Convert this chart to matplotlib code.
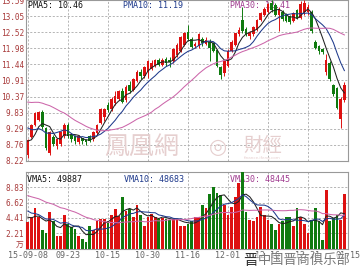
import matplotlib.pyplot as plt
import numpy as np
import pandas as pd

# daily bars 2015-09-08 .. 2016-01-15 (price in yuan, volume in 万手)
opens = [8.42, 9.02, 9.42, 9.59, 9.85, 9.32, 8.50, 9.02, 8.72, 8.80,
         9.05, 9.42, 9.10, 9.05, 8.85, 8.98, 8.92, 9.05, 8.95, 9.15,
         9.50, 9.70, 10.10, 9.95, 10.15, 10.30, 10.55, 10.25, 10.75, 10.60,
         10.90, 11.20, 11.05, 11.20, 11.30, 11.40, 11.58, 11.42, 11.62, 11.60,
         11.55, 11.75, 11.90, 12.10, 12.52, 12.30, 12.05, 12.05, 12.30, 12.12,
         12.20, 12.15, 11.92, 11.35, 11.15, 11.40, 11.90, 12.08, 12.45, 12.92,
         12.62, 12.38, 12.45, 12.60, 12.92, 13.10, 13.20, 13.50, 13.42, 13.10,
         13.20, 13.10, 13.05, 12.90, 13.25, 13.00, 13.20, 13.20, 13.20, 12.20,
         12.05, 11.95, 11.20, 11.50, 10.75, 10.65, 9.62, 10.25]
highs = [8.95, 9.45, 9.85, 9.90, 9.92, 9.35, 9.22, 9.10, 9.00, 9.22,
         9.50, 9.48, 9.15, 9.10, 9.10, 9.00, 8.95, 9.08, 9.22, 9.45,
         10.00, 10.00, 10.20, 10.35, 10.55, 10.60, 10.65, 10.75, 10.90, 11.00,
         11.25, 11.30, 11.40, 11.60, 11.60, 11.62, 11.65, 11.65, 11.70, 11.68,
         12.00, 12.15, 12.40, 12.52, 12.76, 12.35, 12.18, 12.50, 12.35, 12.35,
         12.28, 12.20, 11.95, 11.40, 11.60, 11.95, 12.25, 12.50, 12.70, 13.36,
         12.70, 12.55, 12.72, 12.95, 13.20, 13.35, 13.50, 13.59, 13.48, 13.35,
         13.25, 13.15, 13.10, 13.20, 13.30, 13.55, 13.59, 13.45, 13.25, 12.25,
         12.10, 12.00, 11.80, 11.55, 10.80, 10.70, 10.35, 10.85]
lows = [8.32, 8.98, 9.40, 9.55, 9.30, 8.60, 8.42, 8.72, 8.62, 8.72,
        9.00, 9.00, 8.85, 8.80, 8.80, 8.80, 8.76, 8.85, 8.90, 9.10,
        9.45, 9.55, 9.85, 9.90, 10.10, 10.25, 10.15, 10.20, 10.50, 10.55,
        10.85, 10.95, 11.00, 11.00, 11.25, 11.35, 11.38, 11.38, 11.40, 11.35,
        11.50, 11.70, 11.85, 12.05, 12.22, 11.98, 11.98, 12.00, 12.05, 12.08,
        11.55, 11.85, 11.35, 10.95, 11.05, 11.35, 11.85, 12.05, 12.40, 12.50,
        12.38, 12.30, 12.40, 12.55, 12.88, 13.05, 13.15, 13.20, 13.05, 12.55,
        12.90, 12.85, 12.80, 12.85, 12.95, 12.95, 13.10, 13.10, 12.50, 11.95,
        11.80, 11.80, 11.10, 10.90, 10.40, 9.95, 9.32, 10.20]
closes = [8.92, 9.42, 9.82, 9.85, 9.35, 8.65, 9.18, 8.78, 8.95, 9.18,
          9.42, 9.05, 8.95, 8.90, 9.05, 8.88, 8.85, 8.90, 9.20, 9.42,
          9.95, 9.95, 9.92, 10.30, 10.40, 10.55, 10.20, 10.70, 10.55, 10.95,
          11.20, 11.05, 11.35, 11.55, 11.50, 11.58, 11.42, 11.60, 11.48, 11.52,
          11.95, 12.10, 12.35, 12.48, 12.28, 12.02, 12.12, 12.45, 12.15, 12.25,
          12.00, 11.90, 11.40, 11.10, 11.55, 11.90, 12.20, 12.48, 12.60, 12.55,
          12.45, 12.50, 12.68, 12.92, 13.15, 13.30, 13.45, 13.25, 13.10, 13.30,
          12.95, 12.90, 12.85, 13.15, 13.00, 13.45, 13.50, 13.35, 12.55, 12.00,
          11.90, 11.85, 11.60, 10.95, 10.45, 10.00, 10.30, 10.75]
volumes = [3.8, 4.5, 5.9, 4.6, 2.6, 2.2, 5.3, 4.0, 1.8, 1.8,
           4.9, 3.6, 3.1, 2.8, 1.8, 1.3, 1.0, 3.3, 2.7, 3.9,
           4.3, 4.2, 4.0, 4.8, 5.7, 4.7, 7.4, 5.4, 5.7, 4.5,
           6.3, 4.9, 3.3, 4.5, 5.0, 4.6, 4.2, 4.4, 4.2, 4.1,
           4.3, 4.3, 3.2, 3.2, 3.6, 3.9, 4.6, 4.6, 6.3, 5.8,
           7.8, 8.9, 8.0, 7.7, 6.3, 4.8, 6.0, 7.5, 9.4, 11.0,
           5.3, 4.1, 3.9, 4.6, 6.0, 4.8, 4.1, 3.6, 2.7, 3.6,
           3.9, 4.6, 4.6, 3.2, 5.8, 4.6, 3.6, 2.2, 4.1, 5.8,
           3.9, 1.2, 8.4, 4.0, 4.4, 4.8, 4.1, 7.8]

# sessions before the window, only used to start the moving averages
prior_closes = [9.8, 9.6, 9.9, 10.2, 10.0, 10.3, 10.6, 10.9, 11.2, 11.0,
                11.4, 11.6, 11.3, 11.0, 10.8, 10.9, 10.5, 10.4, 10.6, 10.3,
                10.0, 9.8, 9.5, 9.9, 9.6, 9.2, 8.9, 8.6, 8.8]
prior_volumes = [9.5, 10.2, 8.8, 9.6, 10.0, 9.8, 8.5, 9.4, 9.2, 8.0,
                 9.0, 8.6, 7.8, 8.8, 9.4, 8.2, 7.6, 8.4, 7.2, 6.8,
                 7.4, 6.6, 6.2, 5.8, 5.4, 5.0, 4.8, 4.4, 4.6]

tick_pos = [0, 11, 22, 33, 44, 55, 66, 77, 88]
tick_labels = ['15-09-08', '09-23', '10-15', '10-30', '11-16', '12-01', '12-16', '12-31', '01-15']
price_ticks = [8.22, 8.76, 9.29, 9.83, 10.37, 10.91, 11.44, 11.98, 12.52, 13.05, 13.59]
vol_ticks = [0, 2.21, 4.41, 6.62, 8.83]
vol_tick_labels = ['万', '2.21', '4.41', '6.62', '8.83']

RED = '#dd1111'
GREEN = '#0f7a0f'
MA_COLORS = ['#222222', '#1f3a8c', '#cc66aa']
LABEL_COLORS = ['#111111', '#1f3a8c', '#a03c90']
AXIS_RED = '#a83a3a'
GRID = '#aaaaaa'
MONO = 'DejaVu Sans Mono'
CJK = ['Noto Sans CJK SC', 'DejaVu Sans']


def moving_avg(prior, values, n):
    s = pd.Series(list(prior) + list(values))
    return s.rolling(n).mean().to_numpy()[len(prior):]


x = np.arange(len(closes))
o = np.array(opens)
c = np.array(closes)
colors = [RED if cc >= oo else GREEN for oo, cc in zip(opens, closes)]

fig = plt.figure(figsize=(3.6, 2.7), dpi=100)
W, H = 360.0, 270.0
ax = fig.add_axes([26 / W, 1 - 161 / H, 322 / W, 161 / H])
axv = fig.add_axes([26 / W, 1 - 248.5 / H, 322 / W, 76.5 / H], sharex=ax)

for a in (ax, axv):
    for s in a.spines.values():
        s.set_color('#999999')
        s.set_linewidth(0.8)
    a.set_xticks(tick_pos)
    a.grid(True, color=GRID, linestyle=(0, (2.5, 2)), linewidth=0.6)
    a.set_axisbelow(True)
    a.tick_params(length=0, pad=1.5, labelsize=5.6, colors=AXIS_RED)

# price panel
ax.set_xlim(-0.5, 88)
ax.set_ylim(8.22, 13.59)
ax.set_yticks(price_ticks)
ax.set_yticklabels([f'{t:.2f}' for t in price_ticks], family=MONO)
ax.tick_params(axis='x', labelbottom=False)

ax.vlines(x, lows, highs, colors=colors, linewidth=0.7, zorder=3)
ax.bar(x, np.maximum(np.abs(c - o), 0.02), bottom=np.minimum(o, c), width=0.72,
       color=colors, linewidth=0, zorder=4)
for n, col in zip([5, 10, 30], MA_COLORS):
    ax.plot(x, moving_avg(prior_closes, closes, n), color=col, linewidth=0.75, zorder=5)

ax.text(0.006, 0.995, 'PMA5: 10.46', transform=ax.transAxes, va='top', fontsize=6,
        family=MONO, color=LABEL_COLORS[0], zorder=2)
ax.text(0.301, 0.995, 'PMA10: 11.19', transform=ax.transAxes, va='top', fontsize=6,
        family=MONO, color=LABEL_COLORS[1], zorder=2)
ax.text(0.634, 0.995, 'PMA30: 12.41', transform=ax.transAxes, va='top', fontsize=6,
        family=MONO, color=LABEL_COLORS[2], zorder=2)

# watermark
ax.text(0.36, 0.085, '鳳凰網', transform=ax.transAxes, ha='center', va='center', fontsize=18,
        family=['Noto Sans CJK TC', 'DejaVu Sans'], color='#e6cfcf', zorder=1)
ax.text(0.595, 0.085, '◎', transform=ax.transAxes, ha='center', va='center', fontsize=15,
        family='DejaVu Sans', color='#e6cfcf', zorder=1)
ax.text(0.735, 0.10, '財經', transform=ax.transAxes, ha='center', va='center', fontsize=14,
        family=['Noto Sans CJK TC', 'DejaVu Sans'], color='#e6cfcf', zorder=1)
ax.text(0.735, 0.02, 'finance.ifeng.com', transform=ax.transAxes, ha='center', va='center',
        fontsize=3, color='#e6cfcf', zorder=1)

# volume panel
axv.set_ylim(0, 11.04)
axv.set_yticks(vol_ticks)
axv.set_yticklabels(vol_tick_labels, family=[MONO, 'Noto Sans CJK SC'])
axv.get_yticklabels()[0].set_verticalalignment('bottom')
axv.set_xticklabels(tick_labels, family=MONO, fontsize=6, color='#666666')
axv.tick_params(axis='x', pad=1.5)

axv.bar(x, volumes, width=0.75, color=colors, linewidth=0, zorder=3)
for n, col in zip([5, 10, 30], MA_COLORS):
    axv.plot(x, moving_avg(prior_volumes, volumes, n), color=col, linewidth=0.75, zorder=5)

axv.text(0.004, 0.96, 'VMA5: 49887', transform=axv.transAxes, va='top', fontsize=6,
         family=MONO, color=LABEL_COLORS[0], zorder=2)
axv.text(0.304, 0.96, 'VMA10: 48683', transform=axv.transAxes, va='top', fontsize=6,
         family=MONO, color=LABEL_COLORS[1], zorder=2)
axv.text(0.634, 0.96, 'VMA30: 48445', transform=axv.transAxes, va='top', fontsize=6,
         family=MONO, color=LABEL_COLORS[2], zorder=2)

# site logo bottom right
fig.text(0.675, 0.035, '晋', fontsize=11, family=CJK, color='#333333', va='center', style='italic')
fig.text(0.715, 0.035, '中国晋商俱乐部', fontsize=9.5, family=CJK, color='#777777', va='center',
         bbox=dict(facecolor='white', alpha=0.55, edgecolor='none', pad=1))

fig.savefig('out.png', dpi=100)
